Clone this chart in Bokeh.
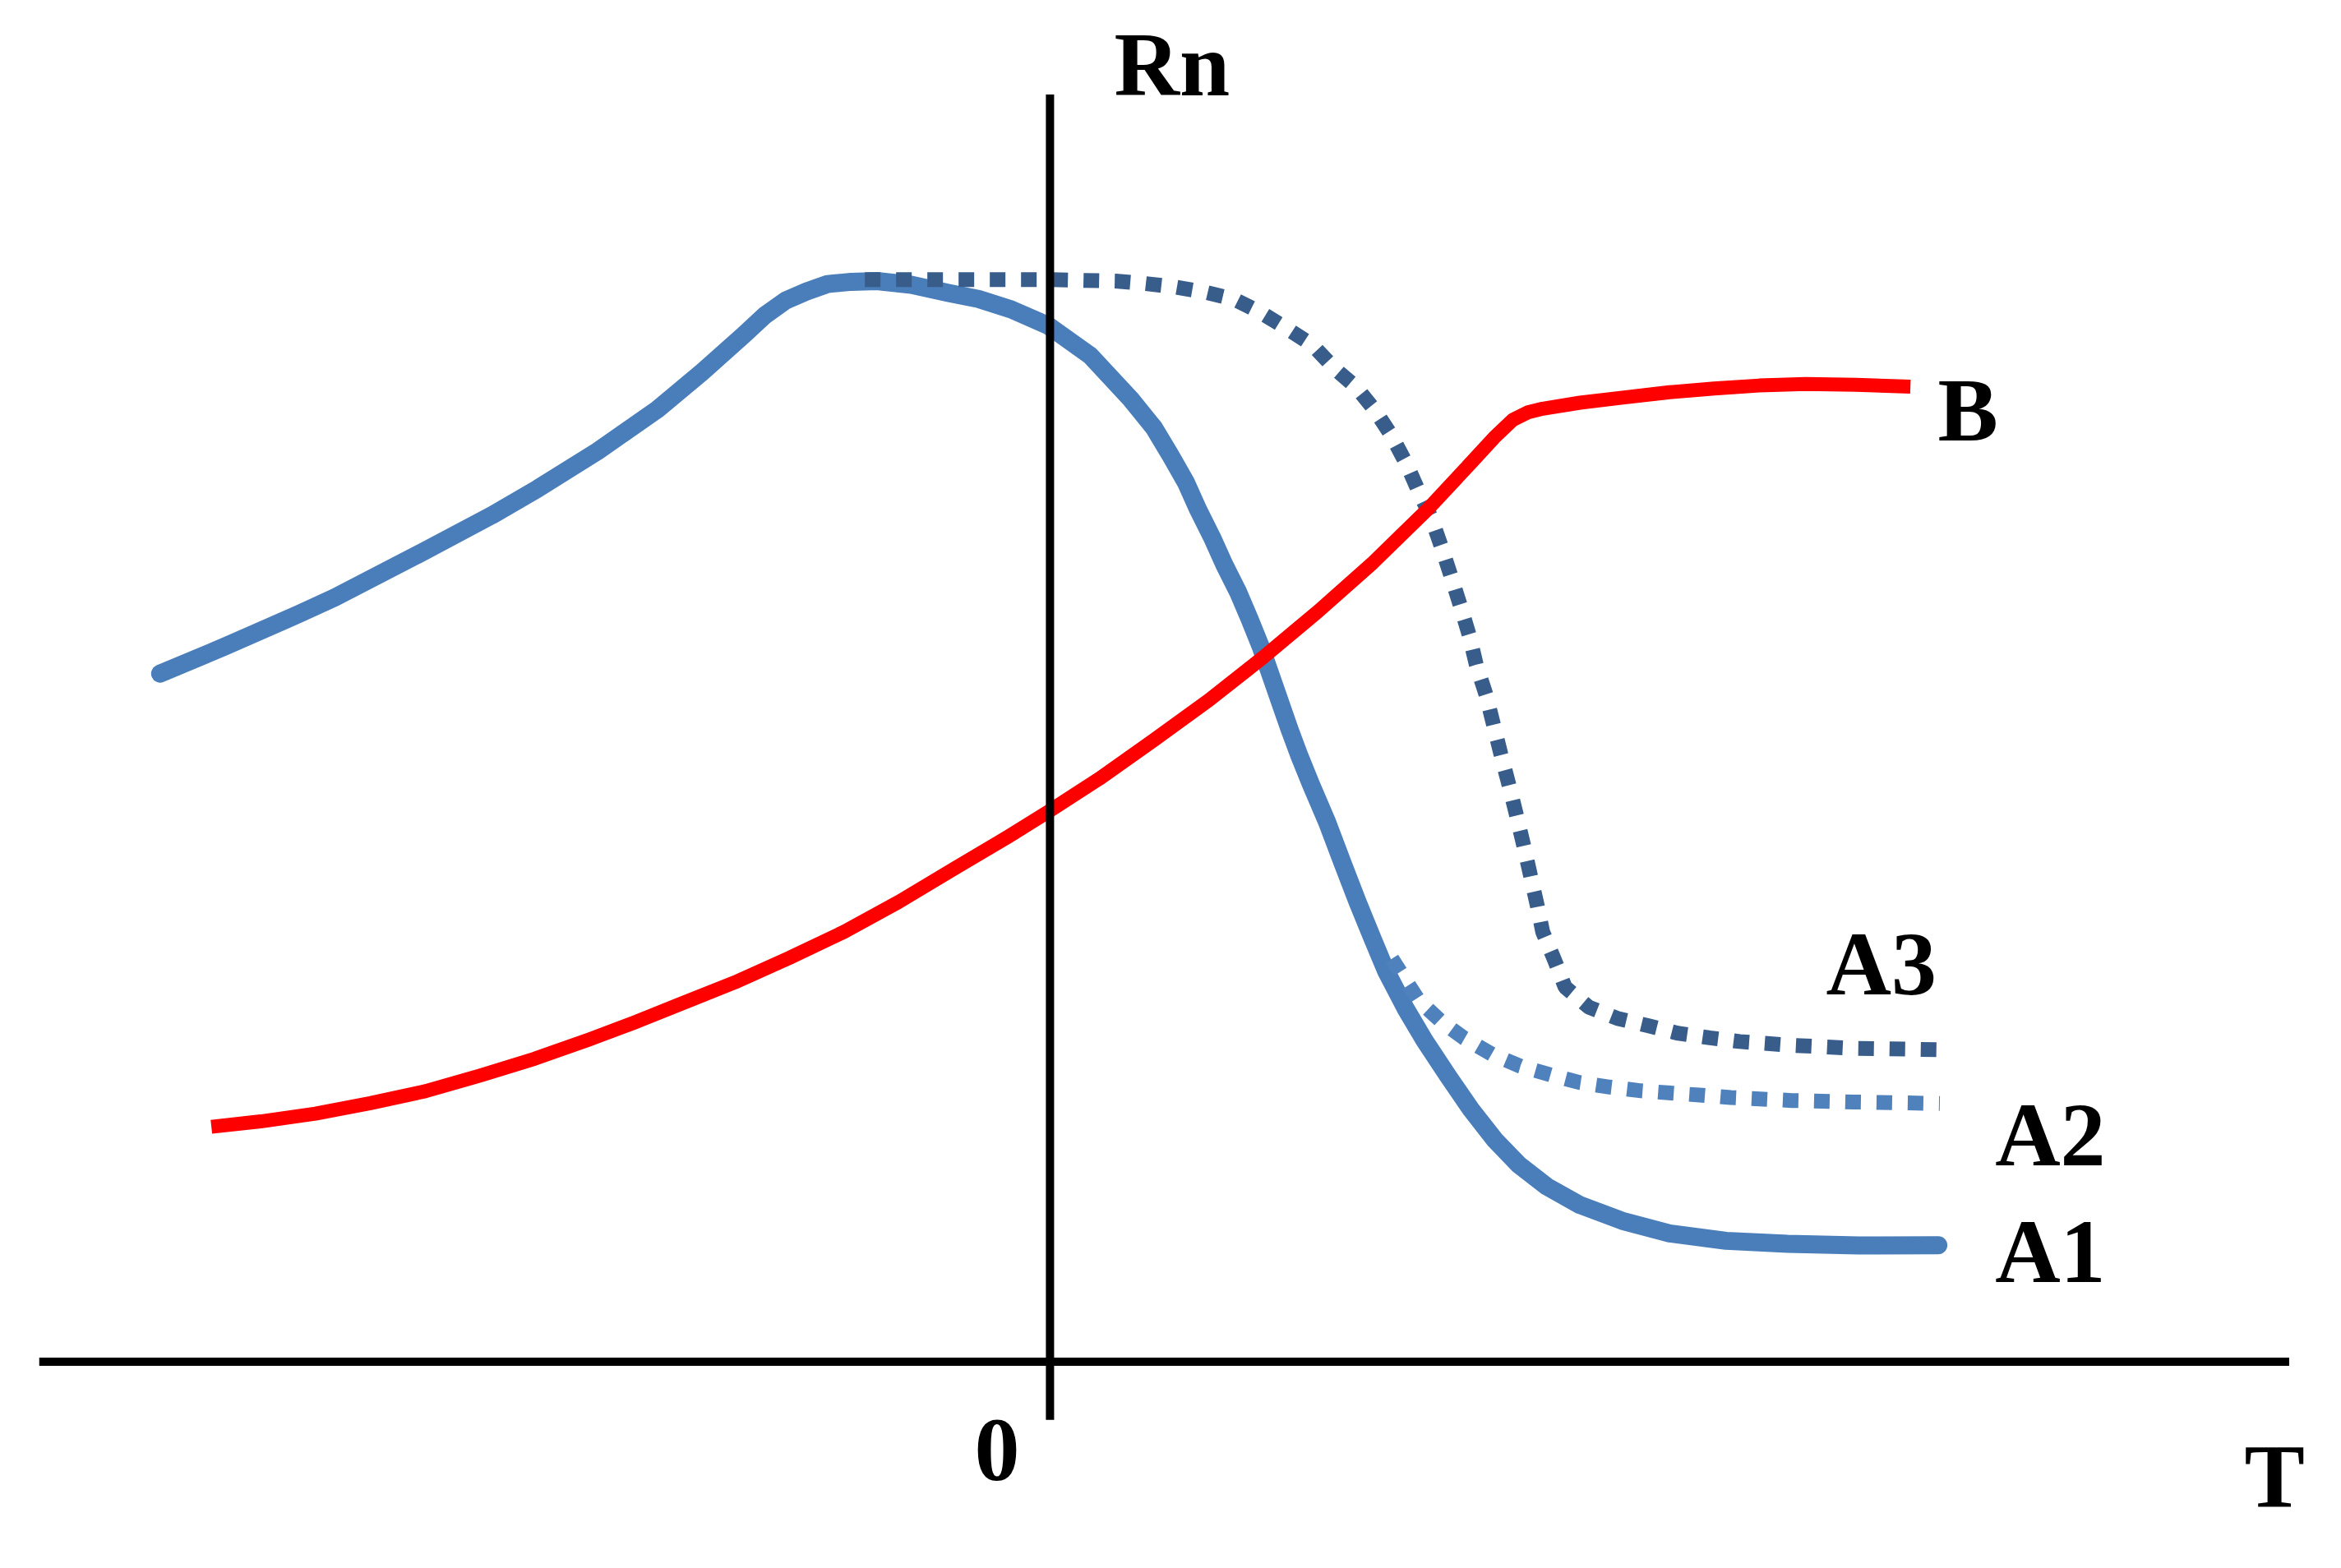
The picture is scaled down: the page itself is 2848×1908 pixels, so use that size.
from bokeh.plotting import figure
from bokeh.embed import file_html
from bokeh.resources import INLINE
from bokeh.models import Range1d
from bokeh.core.properties import value

# ---- data (schematic units: T horizontal, Rn vertical) ----
a1_t = [-5.96, -5.53, -5.03, -4.79, -4.23, -3.74, -3.43, -3.03, -2.63, -2.33, -2.05, -1.91,
        -1.77, -1.63, -1.49, -1.33, -1.16, -0.93, -0.68, -0.48, -0.26, -0.01, 0.27, 0.54,
        0.696, 0.806, 0.911, 0.993, 1.085, 1.168, 1.260, 1.338, 1.412, 1.476, 1.540, 1.604,
        1.672, 1.746, 1.856, 1.96, 2.06, 2.158, 2.25, 2.38, 2.51, 2.664, 2.82, 2.98, 3.14,
        3.328, 3.55, 3.833, 4.15, 4.528, 4.94, 5.413, 5.95]
a1_rn = [4.61, 4.79, 5.01, 5.12, 5.41, 5.67, 5.85, 6.10, 6.38, 6.63, 6.88, 7.01,
         7.11, 7.17, 7.22, 7.235, 7.24, 7.215, 7.16, 7.12, 7.05, 6.94, 6.74, 6.45,
         6.257, 6.074, 5.890, 5.707, 5.523, 5.339, 5.156, 4.973, 4.789, 4.606, 4.422, 4.238,
         4.055, 3.872, 3.615, 3.34, 3.08, 2.84, 2.62, 2.37, 2.15, 1.917, 1.69, 1.486, 1.32,
         1.174, 1.05, 0.944, 0.86, 0.81, 0.79, 0.779, 0.78]

a2_t = [2.29, 2.36, 2.47, 2.62, 2.77, 2.96, 3.15, 3.36, 3.55, 3.75, 3.96, 4.16, 4.37,
        4.56, 4.97, 5.38, 5.96]
a2_rn = [2.70, 2.59, 2.42, 2.28, 2.17, 2.06, 1.98, 1.92, 1.87, 1.84, 1.815, 1.80, 1.785,
         1.77, 1.75, 1.74, 1.73]

a3_t = [-1.24, -0.53, -0.03, 0.44, 0.62, 0.84, 1.04, 1.23, 1.41, 1.59, 1.76, 1.91, 2.05,
        2.18, 2.29, 2.39, 2.47, 2.555, 2.625, 2.69, 2.75, 2.81, 2.855, 2.92, 2.97, 3.02,
        3.07, 3.12, 3.17, 3.22, 3.265, 3.30, 3.38, 3.45, 3.61, 3.80, 4.01, 4.21, 4.42,
        4.62, 4.97, 5.38, 6.00]
a3_rn = [7.25, 7.25, 7.25, 7.24, 7.225, 7.20, 7.165, 7.12, 7.03, 6.92, 6.81, 6.65, 6.53,
         6.37, 6.20, 6.01, 5.83, 5.65, 5.45, 5.25, 5.06, 4.86, 4.67, 4.47, 4.27, 4.07,
         3.88, 3.68, 3.47, 3.25, 3.05, 2.88, 2.69, 2.51, 2.375, 2.30, 2.25, 2.20, 2.17,
         2.145, 2.12, 2.10, 2.09]

b_t = [-5.617, -5.287, -4.920, -4.553, -4.185, -3.819, -3.452, -3.084, -2.791, -2.479,
       -2.112, -1.745, -1.378, -1.011, -0.644, -0.276, -0.038, 0.329, 0.696, 1.063, 1.430,
       1.797, 2.164, 2.531, 2.825, 2.974, 3.10, 3.20, 3.30, 3.55, 3.834, 4.15, 4.448, 4.75,
       5.062, 5.40, 5.763]
b_rn = [1.574, 1.610, 1.662, 1.732, 1.812, 1.917, 2.030, 2.160, 2.270, 2.395,
        2.541, 2.706, 2.881, 3.082, 3.302, 3.520, 3.668, 3.905, 4.165, 4.431, 4.721,
        5.028, 5.354, 5.712, 6.028, 6.19, 6.31, 6.36, 6.385, 6.425, 6.459, 6.495, 6.52, 6.54,
        6.55, 6.545, 6.532]

# axes extents
t_axis = [-6.77, 8.30]
rn_axis = [-0.39, 8.49]

labels = ["Rn", "B", "A3", "A2", "A1", "0", "T"]
label_t = [0.43, 5.947, 5.198, 6.33, 6.33, -0.506, 8.0]
label_rn = [8.476, 6.164, 2.453, 1.308, 0.526, -0.80, -0.983]
label_shift = 0.21  # font baseline correction

W, H = 2848, 1908
scale = 181.633
x0 = -1276.9 / scale
y1 = 1656.5 / scale

p = figure(width=W, height=H, output_backend="svg", toolbar_location=None,
           x_range=Range1d(x0, x0 + W / scale), y_range=Range1d(y1 - H / scale, y1),
           min_border=0)
p.axis.visible = False
p.grid.visible = False
p.outline_line_color = None
p.background_fill_color = "white"
p.border_fill_color = "white"

p.line(a1_t, a1_rn, line_color="#4A7EBB", line_width=22, line_cap="round", line_join="round")
p.line(a2_t, a2_rn, line_color="#4F81BD", line_width=18, line_dash="19 19", line_cap="butt")
p.line(a3_t, a3_rn, line_color="#385D8A", line_width=18, line_dash="19 19", line_cap="butt")
p.line(b_t, b_rn, line_color="#FF0000", line_width=17, line_cap="butt", line_join="round")

p.line(t_axis, [0, 0], line_color="black", line_width=10, line_cap="butt")
p.line([0, 0], rn_axis, line_color="black", line_width=10, line_cap="butt")

p.text(label_t, [r + label_shift for r in label_rn], text=labels,
       text_font=value("Liberation Serif"),
       text_font_style="bold", text_font_size="110px", text_color="black",
       text_align="left", text_baseline="alphabetic")

open("out.html", "w").write(file_html(p, INLINE))
